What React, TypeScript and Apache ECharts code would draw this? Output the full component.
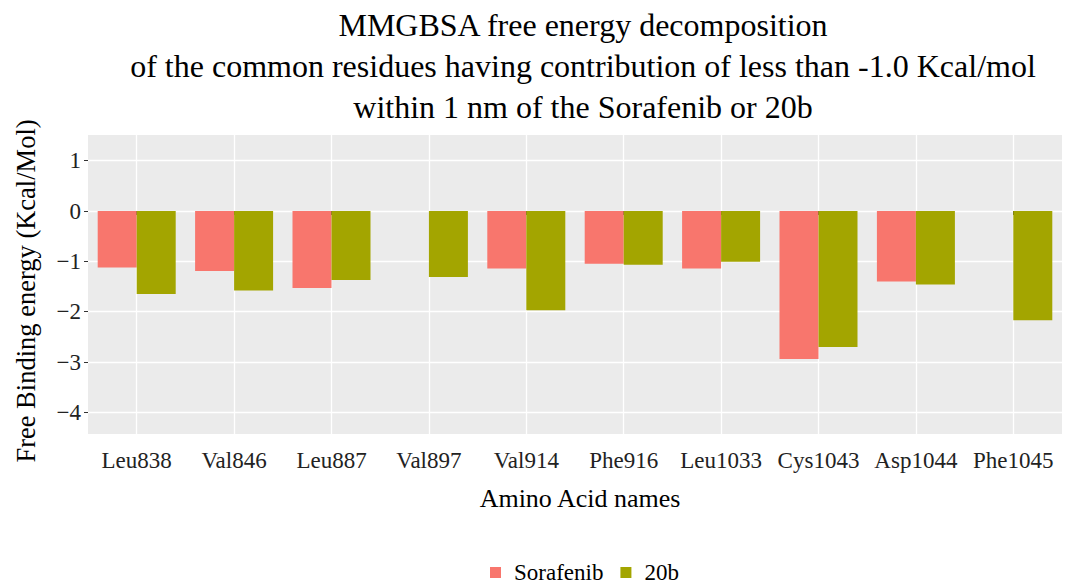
import React, { useEffect, useRef } from 'react';
import * as echarts from 'echarts';

const residues = ['Leu838', 'Val846', 'Leu887', 'Val897', 'Val914', 'Phe916', 'Leu1033', 'Cys1043', 'Asp1044', 'Phe1045'];
const sorafenib = [-1.12, -1.19, -1.53, null, -1.14, -1.05, -1.14, -2.94, -1.40, null];
const compound20b = [-1.65, -1.58, -1.37, -1.31, -1.97, -1.07, -1.01, -2.70, -1.46, -2.17];
const yTicks = [-4, -3, -2, -1, 0, 1];
const xGridPositions = [0, 1, 2, 3, 4, 5, 6, 7, 8, 9];
const seriesNames = ['Sorafenib', '20b'];
const seriesColors = ['#F8766D', '#A3A500'];
const titleLines = [
  'MMGBSA free energy decomposition',
  'of the common residues having contribution of less than -1.0 Kcal/mol',
  'within 1 nm of the Sorafenib or 20b',
];
const xTitle = 'Amino Acid names';
const yTitle = 'Free Binding energy (Kcal/Mol)';

const FONT = 'Liberation Serif';

export default function App() {
  const ref = useRef<HTMLDivElement>(null);
  useEffect(() => {
    if (!ref.current) return;
    const chart = echarts.init(ref.current, undefined, { renderer: 'svg' });
    chart.setOption({
      animation: false,
      backgroundColor: '#ffffff',
      textStyle: { fontFamily: FONT },
      title: {
        text: titleLines.join('\n'),
        left: 578,
        top: -1,
        textAlign: 'center',
        textStyle: { fontFamily: FONT, fontSize: 32, fontWeight: 'normal', color: '#000', lineHeight: 41 },
      },
      legend: {
        data: seriesNames,
        left: 490,
        top: 561,
        padding: 0,
        icon: 'rect',
        itemWidth: 11,
        itemHeight: 11,
        itemGap: 17,
        textStyle: { fontFamily: FONT, fontSize: 23, color: '#000', padding: [0, 0, 0, 8] },
      },
      grid: {
        left: 88,
        right: 4,
        top: 135,
        bottom: 151,
        show: true,
        backgroundColor: '#EBEBEB',
        borderWidth: 0,
        containLabel: false,
      },
      xAxis: [
        {
          type: 'category',
          data: residues,
          axisLine: { show: false },
          axisTick: { show: true, alignWithLabel: true, length: 4, lineStyle: { color: '#333', width: 1 } },
          axisLabel: { fontFamily: FONT, fontSize: 23, color: '#222', margin: 15, interval: 0 },
          splitLine: { show: false },
        },
        {
          type: 'value',
          min: -0.5,
          max: 9.5,
          position: 'bottom',
          axisLine: { show: false, onZero: false },
          axisTick: { show: false, customValues: xGridPositions },
          axisLabel: { show: false, customValues: xGridPositions },
          splitLine: { show: true, lineStyle: { color: '#ffffff', width: 1.3 } },
        },
      ],
      yAxis: {
        type: 'value',
        min: -4.43,
        max: 1.51,
        axisLine: { show: false, onZero: false },
        axisTick: { show: true, length: 4, customValues: yTicks, lineStyle: { color: '#333', width: 1 } },
        axisLabel: {
          fontFamily: FONT,
          fontSize: 23,
          color: '#222',
          margin: 7,
          customValues: yTicks,
          formatter: (v: number) => String(v).replace('-', '\u2212'),
        },
        splitLine: { show: true, lineStyle: { color: '#ffffff', width: 1.3 } },
      },
      graphic: [
        {
          type: 'text',
          x: 580,
          y: 498,
          style: { text: xTitle, font: `26px ${FONT}`, fill: '#000', textAlign: 'center', textVerticalAlign: 'middle' },
        },
        {
          type: 'text',
          x: 26,
          y: 291,
          rotation: Math.PI / 2,
          style: { text: yTitle, font: `26.5px ${FONT}`, fill: '#000', textAlign: 'center', textVerticalAlign: 'middle' },
        },
      ],
      series: [
        {
          name: seriesNames[0],
          type: 'bar',
          xAxisIndex: 0,
          data: sorafenib,
          barWidth: 39,
          barGap: '0%',
          itemStyle: { color: seriesColors[0] },
        },
        {
          name: seriesNames[1],
          type: 'bar',
          xAxisIndex: 0,
          data: compound20b,
          barWidth: 39,
          barGap: '0%',
          itemStyle: { color: seriesColors[1] },
        },
      ],
    });
    return () => chart.dispose();
  }, []);
  return <div ref={ref} style={{ position: 'fixed', left: 0, top: 0, width: 1066, height: 585 }} />;
}
